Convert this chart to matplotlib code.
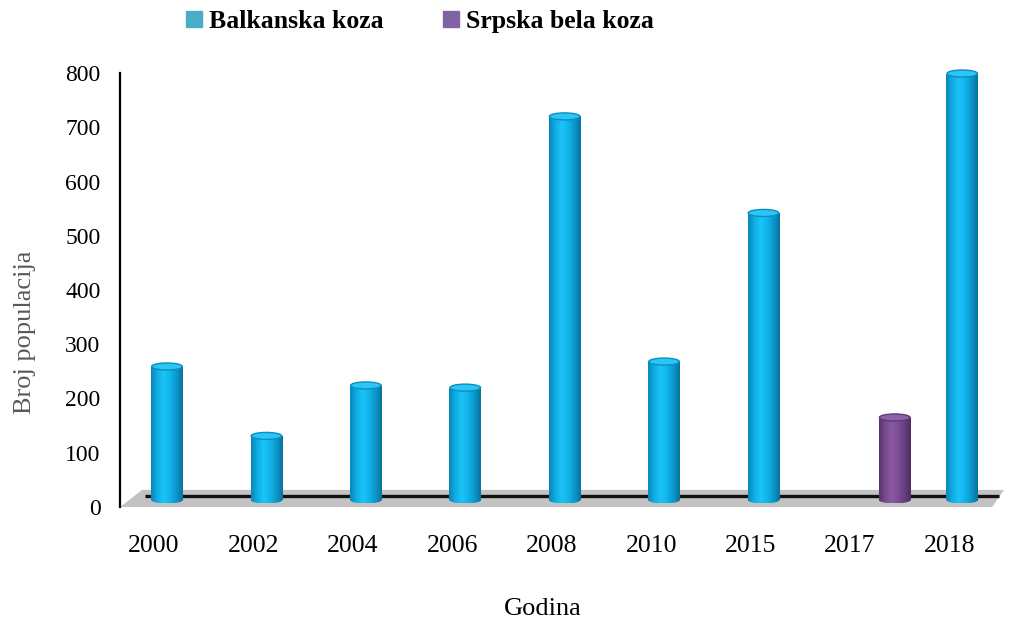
import numpy as np
import matplotlib
matplotlib.use("Agg")
import matplotlib.pyplot as plt
from matplotlib.colors import LinearSegmentedColormap
from matplotlib.patches import Ellipse, Polygon
from matplotlib.lines import Line2D

# data
years = ["2000", "2002", "2004", "2006", "2008", "2010", "2015", "2017", "2018"]
balkanska = [246, 118, 211, 207, 707, 255, 529, np.nan, 786]
srpska = [np.nan, np.nan, np.nan, np.nan, np.nan, np.nan, np.nan, 152, np.nan]
series_names = ["Balkanska koza", "Srpska bela koza"]
legend_colors = ["#4BACC6", "#8064A2"]

plt.rcParams["font.family"] = ["Liberation Serif", "DejaVu Serif"]

cyan_cmap = LinearSegmentedColormap.from_list(
    "cyl_cyan", ["#0A86B8", "#10AEE4", "#1BC4F8", "#12B4EA", "#0C98CC", "#07729F"])
purple_cmap = LinearSegmentedColormap.from_list(
    "cyl_purple", ["#583469", "#7A4B92", "#8A5AA3", "#7C4D95", "#683F80", "#4E2D5F"])

fig = plt.figure(figsize=(10.2, 6.2), dpi=100)
ax = fig.add_axes([120 / 1020, 113 / 620, 890 / 1020, 434 / 620])

base_shift = 13      # 3D offset between floor front and bar base (data units)
bar_w = 0.32
cap_h = 13           # ellipse height of cylinder caps, data units
x = np.arange(len(years))
grad = np.linspace(0, 1, 64).reshape(1, -1)

# floor of the 3D chart
floor = Polygon([(-0.473, -base_shift), (8.3, -base_shift), (8.42, 18.5), (-0.25, 18.5)],
                closed=True, facecolor="#C2C2C2", edgecolor="none", zorder=1)
ax.add_patch(floor)
ax.plot([-0.22, 8.37], [7.4, 7.4], color="#111111", lw=2.4, zorder=1.5,
        solid_capstyle="butt")


def draw_cylinders(xpos, vals, cmap, top_color, rim_color):
    for xi, v in zip(xpos, vals):
        if np.isnan(v):
            continue
        rect = ax.bar(xi, v, bar_w, color=cmap(0.5), zorder=2, clip_on=False)[0]
        im = ax.imshow(grad, cmap=cmap, aspect="auto", zorder=3,
                       extent=[xi - bar_w / 2, xi + bar_w / 2, -cap_h / 2, v],
                       interpolation="bicubic")
        im.set_clip_path(rect)
        bottom = Ellipse((xi, 0), bar_w, cap_h, facecolor="none", edgecolor="none", zorder=2)
        ax.add_patch(bottom)
        im2 = ax.imshow(grad, cmap=cmap, aspect="auto", zorder=3,
                        extent=[xi - bar_w / 2, xi + bar_w / 2, -cap_h / 2, cap_h / 2],
                        interpolation="bicubic")
        im2.set_clip_path(bottom)
        top = Ellipse((xi, v), bar_w * 0.96, cap_h, facecolor=top_color,
                      edgecolor=rim_color, lw=1.0, zorder=4, clip_on=False)
        ax.add_patch(top)


draw_cylinders(x, balkanska, cyan_cmap, "#2CC6F5", "#0A8DC0")
draw_cylinders(x + bar_w, srpska, purple_cmap, "#8E62A8", "#5E3A75")

ax.set_xlim(-0.473, 8.48)
ax.set_ylim(-base_shift, 800 - base_shift)

ticks = np.arange(0, 801, 100)
ax.set_yticks(ticks - base_shift, labels=[str(t) for t in ticks])
ax.set_xticks(x - 0.13, labels=years)
ax.tick_params(axis="y", length=0, pad=14, labelsize=17)
ax.tick_params(axis="x", length=0, pad=20, labelsize=18.5)

for side in ["top", "right", "bottom"]:
    ax.spines[side].set_visible(False)
ax.spines["left"].set_linewidth(1.6)
ax.spines["left"].set_color("black")
ax.set_facecolor("none")

fig.text(25 / 1020, 1 - 332 / 620, "Broj populacija", rotation=90, ha="center",
         va="center", fontsize=19, color="#595959")
fig.text(543 / 1020, 1 - 609 / 620, "Godina", ha="center", va="center", fontsize=19)

handles = [Line2D([], [], marker="s", linestyle="none", markersize=11,
                  markerfacecolor=c, markeredgecolor=c) for c in legend_colors]
fig.legend(handles, series_names, loc="center", bbox_to_anchor=(0.412, 0.965),
           ncol=2, frameon=False, handlelength=0.6, handletextpad=0.3,
           columnspacing=2.3, prop={"weight": "bold", "size": 18.5})

fig.savefig("out.png", dpi=100)
